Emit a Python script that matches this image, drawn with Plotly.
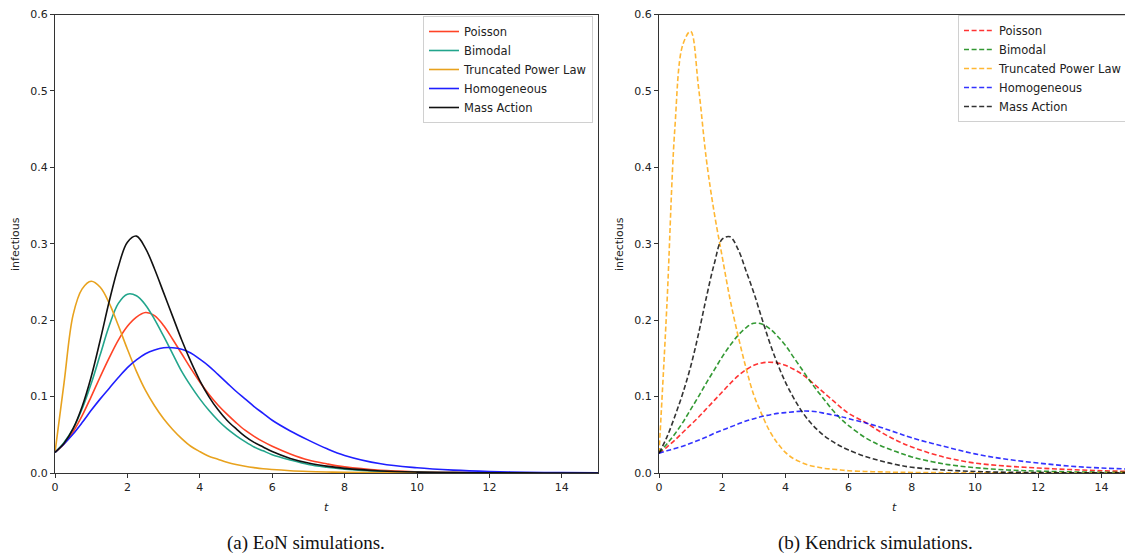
import plotly.graph_objects as go

# ---- data ----
t = [0, 0.25, 0.5, 0.75, 1, 1.25, 1.5, 1.75, 2, 2.25, 2.5, 2.75, 3, 3.25, 3.5, 3.75,
     4, 4.25, 4.5, 4.75, 5, 5.25, 5.5, 5.75, 6, 6.5, 7, 7.5, 8, 9, 10, 11, 12, 13, 14, 15]

series_names = ["Poisson", "Bimodal", "Truncated Power Law", "Homogeneous", "Mass Action"]

# (a) EoN simulations
eon_poisson = [0.027, 0.038, 0.054, 0.075, 0.100, 0.126, 0.151, 0.174, 0.192, 0.204, 0.210, 0.206,
               0.193, 0.175, 0.156, 0.137, 0.119, 0.103, 0.089, 0.077, 0.066, 0.056, 0.048, 0.041,
               0.035, 0.025, 0.017, 0.012, 0.008, 0.0035, 0.0016, 0.0008, 0.0004, 0.0002, 0.0001, 0.0]
eon_bimodal = [0.027, 0.040, 0.058, 0.084, 0.117, 0.155, 0.193, 0.222, 0.234, 0.232, 0.220, 0.201,
               0.179, 0.156, 0.133, 0.114, 0.097, 0.082, 0.069, 0.058, 0.049, 0.041, 0.034, 0.029,
               0.024, 0.017, 0.011, 0.0075, 0.005, 0.0022, 0.001, 0.0005, 0.0002, 0.0001, 0.0, 0.0]
eon_tpl = [0.027, 0.118, 0.207, 0.241, 0.251, 0.243, 0.222, 0.193, 0.162, 0.133, 0.108, 0.088,
           0.071, 0.057, 0.045, 0.035, 0.028, 0.022, 0.018, 0.014, 0.011, 0.0088, 0.007, 0.0055,
           0.0045, 0.003, 0.002, 0.0013, 0.0009, 0.0004, 0.0002, 0.0001, 0.0, 0.0, 0.0, 0.0]
eon_homog = [0.027, 0.038, 0.051, 0.066, 0.082, 0.097, 0.111, 0.125, 0.138, 0.148, 0.156, 0.161,
             0.164, 0.164, 0.162, 0.157, 0.149, 0.140, 0.129, 0.118, 0.107, 0.097, 0.087, 0.078,
             0.069, 0.055, 0.043, 0.032, 0.023, 0.012, 0.0068, 0.0038, 0.002, 0.001, 0.0006, 0.0003]
eon_mass = [0.027, 0.039, 0.058, 0.087, 0.126, 0.174, 0.225, 0.270, 0.302, 0.310, 0.294, 0.267,
            0.236, 0.205, 0.174, 0.146, 0.121, 0.100, 0.083, 0.069, 0.058, 0.048, 0.040, 0.034,
            0.028, 0.019, 0.013, 0.009, 0.006, 0.0027, 0.0012, 0.0006, 0.0003, 0.0001, 0.0, 0.0]

# (b) Kendrick simulations
ken_poisson = [0.026, 0.034, 0.043, 0.053, 0.063, 0.073, 0.084, 0.095, 0.106, 0.117, 0.127, 0.135,
               0.141, 0.144, 0.145, 0.144, 0.141, 0.136, 0.130, 0.122, 0.113, 0.104, 0.095, 0.086,
               0.078, 0.067, 0.054, 0.043, 0.034, 0.021, 0.013, 0.009, 0.0065, 0.0045, 0.003, 0.002]
ken_bimodal = [0.026, 0.038, 0.051, 0.066, 0.083, 0.100, 0.118, 0.135, 0.152, 0.167, 0.180, 0.190,
               0.196, 0.195, 0.189, 0.179, 0.167, 0.152, 0.137, 0.122, 0.108, 0.095, 0.082, 0.071,
               0.062, 0.047, 0.036, 0.028, 0.021, 0.012, 0.007, 0.004, 0.0025, 0.0015, 0.001, 0.0007]
ken_tpl = [0.026, 0.220, 0.450, 0.560, 0.578, 0.505, 0.410, 0.340, 0.283, 0.227, 0.180, 0.138,
           0.102, 0.077, 0.055, 0.039, 0.027, 0.019, 0.014, 0.010, 0.008, 0.006, 0.005, 0.004,
           0.003, 0.002, 0.0015, 0.001, 0.0007, 0.0004, 0.0002, 0.0001, 0.0, 0.0, 0.0, 0.0]
ken_homog = [0.026, 0.029, 0.032, 0.035, 0.039, 0.043, 0.047, 0.052, 0.056, 0.060, 0.064, 0.068,
             0.071, 0.074, 0.076, 0.078, 0.079, 0.080, 0.081, 0.081, 0.080, 0.078, 0.076, 0.074,
             0.071, 0.066, 0.060, 0.053, 0.046, 0.035, 0.025, 0.018, 0.013, 0.009, 0.0065, 0.005]
ken_mass = [0.026, 0.047, 0.074, 0.104, 0.139, 0.182, 0.230, 0.274, 0.306, 0.309, 0.293, 0.265,
            0.236, 0.203, 0.171, 0.143, 0.119, 0.099, 0.082, 0.068, 0.057, 0.048, 0.041, 0.035,
            0.030, 0.022, 0.016, 0.011, 0.0075, 0.004, 0.002, 0.001, 0.0006, 0.0003, 0.0002, 0.0001]

x_ticks = [0, 2, 4, 6, 8, 10, 12, 14]
y_ticks = [0.0, 0.1, 0.2, 0.3, 0.4, 0.5, 0.6]

eon_colors = ["#ff4326", "#22a58c", "#e8a21e", "#1f1fff", "#111111"]
ken_colors = ["rgba(255,0,0,0.8)", "rgba(0,128,0,0.8)", "rgba(255,165,0,0.8)",
              "rgba(0,0,255,0.8)", "rgba(0,0,0,0.8)"]

# the page body has an 8px margin, so the figure is placed 8px in from the window corner
OFF = 8
W, H = 1133 - OFF, 559 - OFF
fig = go.Figure()

eon = [eon_poisson, eon_bimodal, eon_tpl, eon_homog, eon_mass]
ken = [ken_poisson, ken_bimodal, ken_tpl, ken_homog, ken_mass]

for name, ys, c in zip(series_names, eon, eon_colors):
    fig.add_trace(go.Scatter(x=t, y=ys, mode="lines", name=name,
                             line=dict(color=c, width=1.6, shape="spline", smoothing=1.0),
                             xaxis="x", yaxis="y", legend="legend"))
for name, ys, c in zip(series_names, ken, ken_colors):
    fig.add_trace(go.Scatter(x=t, y=ys, mode="lines", name=name,
                             line=dict(color=c, width=1.6, dash="5px,2.6px", shape="spline", smoothing=1.0),
                             xaxis="x2", yaxis="y2", legend="legend2"))

def px_x(v):
    return min(1.0, (v - OFF) / W)

def px_y(v):
    return (H - (v - OFF)) / H

axis_common = dict(showgrid=False, zeroline=False, showline=True, linecolor="#333333",
                   linewidth=1, mirror=True, ticks="outside", ticklen=4, tickcolor="#333333",
                   automargin=False, ticklabeloverflow="allow",
                   tickfont=dict(family="DejaVu Sans", size=11, color="#222222"))

legend_common = dict(xanchor="right", yanchor="top", bgcolor="white",
                     bordercolor="#d0d0d0", borderwidth=1,
                     font=dict(family="DejaVu Sans", size=11.5, color="#222222"))

fig.update_layout(
    template="none",
    width=W, height=H,
    margin=dict(l=0, r=0, t=0, b=0, pad=0, autoexpand=False),
    paper_bgcolor="white", plot_bgcolor="white",
    xaxis=dict(domain=[px_x(55), px_x(598)], range=[0, 15], tickvals=x_ticks,
               anchor="y", **axis_common),
    yaxis=dict(domain=[px_y(473), px_y(14.5)], range=[0, 0.6], tickvals=y_ticks,
               tickformat=".1f", anchor="x", **axis_common),
    xaxis2=dict(domain=[px_x(659), 1.0], range=[0, 15], tickvals=x_ticks,
                anchor="y2", **axis_common),
    yaxis2=dict(domain=[px_y(473), px_y(14.5)], range=[0, 0.6], tickvals=y_ticks,
                tickformat=".1f", anchor="x2", **axis_common),
    legend=dict(x=px_x(593), y=px_y(16), **legend_common),
    legend2=dict(x=px_x(1128), y=px_y(15), **legend_common),
)

annos = [
    dict(text="infectious", x=px_x(15), y=px_y(244), textangle=-90),
    dict(text="infectious", x=px_x(619), y=px_y(244), textangle=-90),
    dict(text="<i>t</i>", x=px_x(326), y=px_y(507)),
    dict(text="<i>t</i>", x=px_x(895), y=px_y(507)),
]
for a in annos:
    fig.add_annotation(xref="paper", yref="paper", showarrow=False,
                       xanchor="center", yanchor="middle",
                       font=dict(family="DejaVu Sans", size=11, color="#222222"), **a)

fig.add_annotation(text="(a) EoN simulations.", xref="paper", yref="paper",
                   x=px_x(306), y=px_y(543), showarrow=False, xanchor="center", yanchor="middle",
                   font=dict(family="Liberation Serif", size=19, color="#111111"))
fig.add_annotation(text="(b) Kendrick simulations.", xref="paper", yref="paper",
                   x=px_x(875), y=px_y(543), showarrow=False, xanchor="center", yanchor="middle",
                   font=dict(family="Liberation Serif", size=19, color="#111111"))

fig.write_html("out.html")
